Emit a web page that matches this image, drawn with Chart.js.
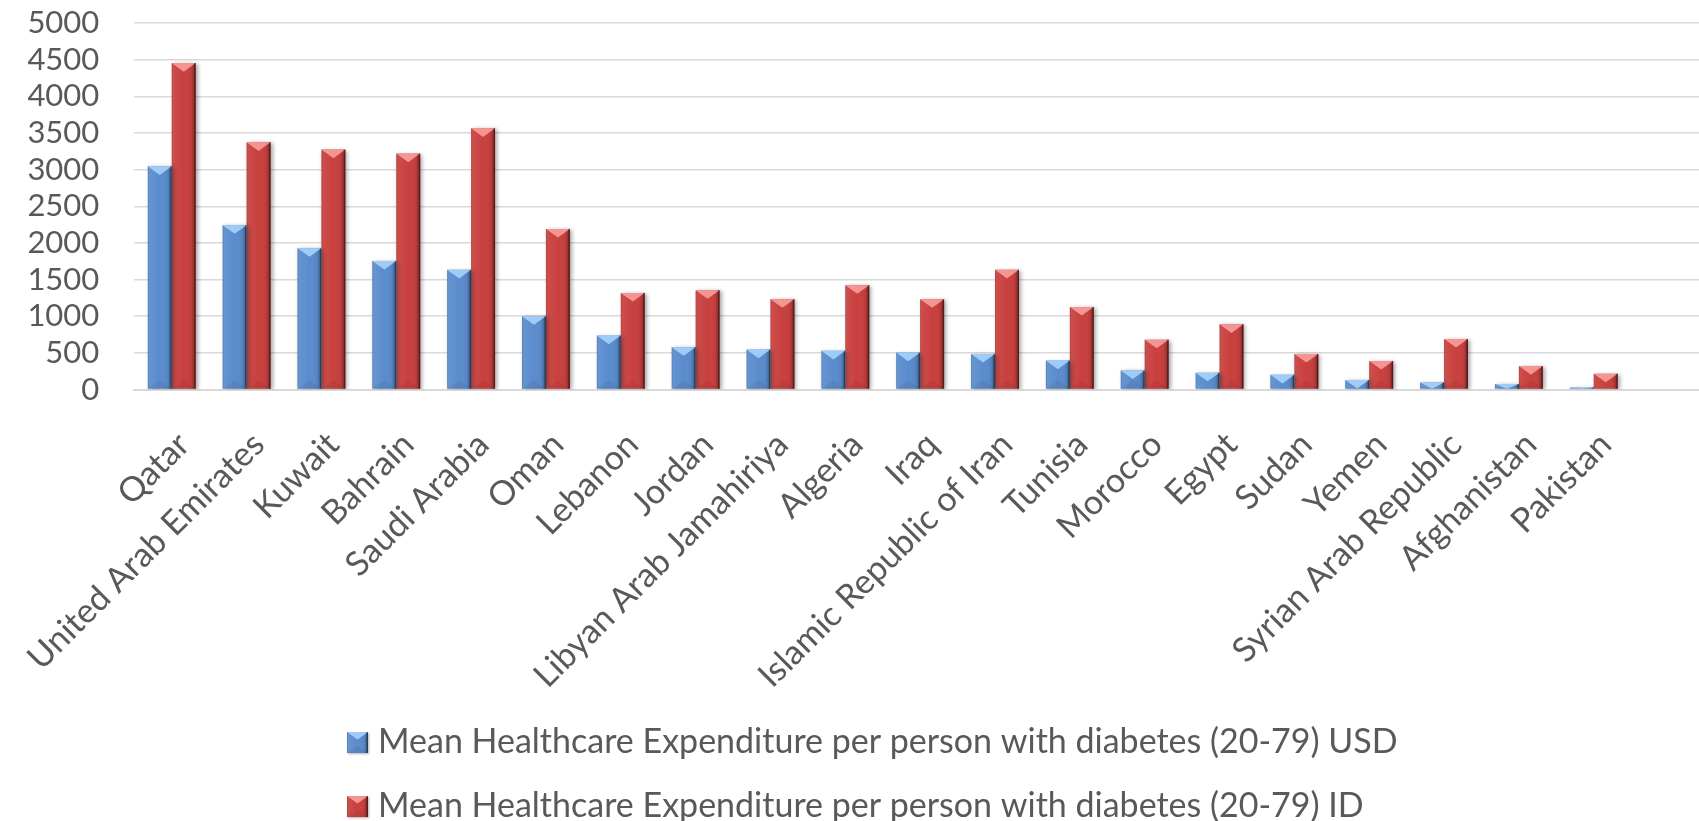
<!DOCTYPE html>
<html>
<head>
<meta charset="utf-8">
<script src="https://cdn.jsdelivr.net/npm/chart.js@4.4.1/dist/chart.umd.min.js"></script>
<style>
  html, body { margin: 0; padding: 0; background: #ffffff; overflow: hidden; }
  #wrap { width: 1699px; height: 821px; position: relative; overflow: hidden; }
  #c { position: absolute; left: 0; top: 0; }
</style>
</head>
<body>
<div id="wrap"><canvas id="c" width="1706" height="821"></canvas></div>
<script>
const categories = ["Qatar", "United Arab Emirates", "Kuwait", "Bahrain", "Saudi Arabia", "Oman",
  "Lebanon", "Jordan", "Libyan Arab Jamahiriya", "Algeria", "Iraq", "Islamic Republic of Iran",
  "Tunisia", "Morocco", "Egypt", "Sudan", "Yemen", "Syrian Arab Republic", "Afghanistan", "Pakistan", ""];

const usdValues = [3045, 2241, 1927, 1754, 1632, 1000, 736, 577, 545, 527, 504, 486, 395, 260, 230, 200, 130, 95, 75, 28];
const idValues  = [4454, 3373, 3273, 3218, 3563, 2191, 1318, 1354, 1232, 1423, 1232, 1632, 1127, 680, 890, 485, 390, 690, 320, 215];

const seriesLabels = [
  "Mean Healthcare Expenditure per person with diabetes (20-79) USD",
  "Mean Healthcare Expenditure per person with diabetes (20-79) ID"
];
const yTicks = [0, 500, 1000, 1500, 2000, 2500, 3000, 3500, 4000, 4500, 5000];

const FONT = "Lato";
const TEXT = "#595959";
const barColors = ["#5A8CCD", "#C8403E"];
const capColors = ["rgba(170,215,255,0.85)", "rgba(255,170,168,0.8)"];

function drawBevel(ctx, left, top, w, h, i) {
  const right = left + w;
  const g = ctx.createLinearGradient(left, 0, right, 0);
  g.addColorStop(0, "rgba(255,255,255,0.10)");
  g.addColorStop(0.12, "rgba(255,255,255,0.06)");
  g.addColorStop(0.5, "rgba(255,255,255,0)");
  g.addColorStop(0.82, "rgba(0,0,0,0.05)");
  g.addColorStop(1, "rgba(0,0,0,0.38)");
  ctx.fillStyle = g;
  ctx.fillRect(left, top, w, h);
  const c = Math.min(w * 0.36, h);
  ctx.beginPath();
  ctx.moveTo(left, top);
  ctx.lineTo(right, top);
  ctx.lineTo(left + w / 2, top + c);
  ctx.closePath();
  ctx.fillStyle = capColors[i];
  ctx.fill();
  if (h > c * 2) {
    ctx.beginPath();
    ctx.moveTo(left, top + h);
    ctx.lineTo(right, top + h);
    ctx.lineTo(left + w / 2, top + h - c);
    ctx.closePath();
    ctx.fillStyle = "rgba(0,0,0,0.06)";
    ctx.fill();
  }
  ctx.fillStyle = "rgba(0,0,0,0.35)";
  ctx.fillRect(right - 1.5, top, 1.5, h);
  ctx.fillStyle = "rgba(0,0,0,0.12)";
  ctx.fillRect(left, top, 1, h);
}

const bevelPlugin = {
  id: "bevel",
  beforeDatasetsDraw(chart) {
    const ctx = chart.ctx;
    ctx.save();
    ctx.shadowColor = "rgba(0,0,0,0.35)";
    ctx.shadowBlur = 4;
    ctx.shadowOffsetX = 2;
    ctx.shadowOffsetY = 1;
  },
  afterDatasetsDraw(chart) {
    const ctx = chart.ctx;
    ctx.restore();
    ctx.save();
    const area = chart.chartArea;
    ctx.beginPath();
    ctx.rect(area.left, area.top, area.right - area.left, area.bottom - area.top);
    ctx.clip();
    chart.data.datasets.forEach((ds, i) => {
      const meta = chart.getDatasetMeta(i);
      meta.data.forEach(el => {
        const p = el.getProps(["x", "y", "base", "width"], true);
        if (p.y == null || isNaN(p.y)) return;
        const top = Math.min(p.y, p.base);
        const h = Math.abs(p.base - p.y);
        if (h <= 0) return;
        drawBevel(ctx, p.x - p.width / 2, top, p.width, h, i);
      });
    });
    ctx.restore();
  }
};

const legendPlugin = {
  id: "sideLegend",
  afterDraw(chart) {
    const ctx = chart.ctx;
    ctx.save();
    chart.data.datasets.forEach((ds, i) => {
      const mx = 347, my = 732 + 64 * i, s = 21;
      ctx.save();
      ctx.shadowColor = "rgba(0,0,0,0.3)";
      ctx.shadowBlur = 2;
      ctx.shadowOffsetX = 1;
      ctx.shadowOffsetY = 1;
      ctx.fillStyle = ds.backgroundColor;
      ctx.fillRect(mx, my, s, s);
      ctx.restore();
      drawBevel(ctx, mx, my, s, s, i);
      ctx.fillStyle = TEXT;
      ctx.font = "34px " + FONT;
      ctx.textBaseline = "alphabetic";
      ctx.textAlign = "left";
      ctx.fillText(ds.label, 378, 753 + 64 * i);
    });
    ctx.restore();
  }
};

new Chart(document.getElementById("c"), {
  type: "bar",
  data: {
    labels: categories,
    datasets: [
      { label: seriesLabels[0], data: usdValues, backgroundColor: barColors[0], borderWidth: 0 },
      { label: seriesLabels[1], data: idValues, backgroundColor: barColors[1], borderWidth: 0 }
    ]
  },
  options: {
    responsive: false,
    animation: false,
    devicePixelRatio: 1,
    layout: { padding: { left: 0, right: 0, top: 23, bottom: 0 } },
    datasets: { bar: { categoryPercentage: 0.64, barPercentage: 1.0 } },
    plugins: {
      legend: { display: false },
      tooltip: { enabled: false }
    },
    scales: {
      x: {
        grid: { display: false, drawTicks: false },
        border: { display: true, color: "#D9D9D9", width: 2 },
        ticks: {
          autoSkip: false,
          maxRotation: 45,
          minRotation: 45,
          padding: 35,
          labelOffset: 12,
          color: TEXT,
          font: { family: FONT, size: 34 }
        },
        afterFit(scale) {
          scale.height = 431.5;
          scale.paddingLeft = 0;
          scale.paddingRight = 0;
        }
      },
      y: {
        min: 0,
        max: 5000,
        afterBuildTicks(scale) { scale.ticks = yTicks.map(v => ({ value: v })); },
        grid: { color: "#D9D9D9", lineWidth: 1.5, drawTicks: false },
        border: { display: false },
        ticks: {
          autoSkip: false,
          padding: 35,
          color: TEXT,
          font: { family: FONT, size: 31 },
          callback: (v) => String(v)
        },
        afterFit(scale) {
          scale.width = 134.3;
          scale.paddingTop = 0;
          scale.paddingBottom = 0;
        }
      }
    }
  },
  plugins: [bevelPlugin, legendPlugin]
});
</script>
</body>
</html>
